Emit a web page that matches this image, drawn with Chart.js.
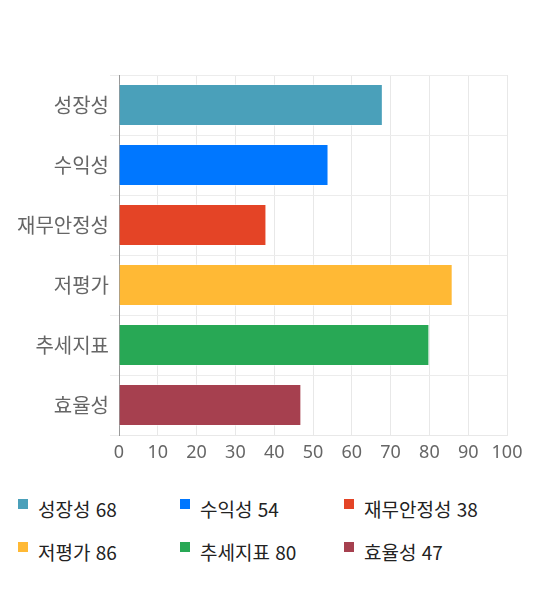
<!DOCTYPE html>
<html lang="ko">
<head>
  <meta charset="UTF-8">
  <title>항목별 점수</title>
  <script src="https://cdn.jsdelivr.net/npm/chart.js"></script>
  <style>
    body {
      margin: 0;
      padding: 0;
      background: #fff;
      font-family: 'Noto Sans CJK KR', 'Noto Sans', sans-serif;
      overflow: hidden;
    }
    #wrap {
      position: relative;
      width: 540px;
      height: 590px;
    }
    #chartBox {
      position: absolute;
      left: 0;
      top: 0;
      width: 540px;
      height: 470px;
    }
    #legend {
      position: absolute;
      left: 18px;
      top: 495px;
      width: 520px;
      display: grid;
      grid-template-columns: 162px 164px 190px;
      row-gap: 15px;
    }
    .item {
      position: relative;
      padding-left: 20px;
      font-size: 19px;
      line-height: 28px;
      color: #222;
      white-space: nowrap;
    }
    .item span {
      position: absolute;
      left: 0;
      top: 4px;
      width: 10px;
      height: 10px;
    }
  </style>
</head>
<body>
  <div id="wrap">
    <div id="chartBox"><canvas id="chart"></canvas></div>
    <div id="legend"></div>
  </div>

  <script>
    const categories = ['성장성', '수익성', '재무안정성', '저평가', '추세지표', '효율성'];
    const scores = [68, 54, 38, 86, 80, 47];
    const barColors = ['#4aa0ba', '#0077ff', '#e44426', '#ffb935', '#28a855', '#a6404f'];
    const xTicks = [0, 10, 20, 30, 40, 50, 60, 70, 80, 90, 100];

    // 범례는 HTML로
    const legend = document.getElementById('legend');
    categories.forEach((name, i) => {
      const div = document.createElement('div');
      div.className = 'item';
      div.innerHTML = `<span style="background:${barColors[i]}"></span>${name} ${scores[i]}`;
      legend.appendChild(div);
    });

    const ctx = document.getElementById('chart').getContext('2d');
    new Chart(ctx, {
      type: 'bar',
      data: {
        labels: categories,
        datasets: [{
          data: scores,
          backgroundColor: barColors,
          borderColor: 'rgba(255,255,255,0.45)',
          borderWidth: 1,
          barPercentage: 0.7,
          categoryPercentage: 1.0
        }]
      },
      options: {
        indexAxis: 'y',
        responsive: true,
        maintainAspectRatio: false,
        animation: false,
        layout: {
          padding: { top: 75, left: 0, right: 33, bottom: 8 }
        },
        plugins: {
          legend: { display: false },
          tooltip: { enabled: false }
        },
        scales: {
          x: {
            min: xTicks[0],
            max: xTicks[xTicks.length - 1],
            afterBuildTicks: (scale) => {
              scale.ticks = xTicks.map(v => ({ value: v }));
            },
            afterFit: (scale) => { scale.height = 27; },
            grid: { color: '#e8e8e8', tickLength: 0 },
            border: { color: '#e8e8e8' },
            ticks: {
              color: '#666',
              padding: 7,
              maxRotation: 0,
              font: { family: "'Noto Sans', sans-serif", size: 18 }
            }
          },
          y: {
            afterFit: (scale) => { scale.width = 119; },
            grid: { color: '#ececec', tickLength: 9, offset: true },
            border: { color: '#999' },
            ticks: {
              color: '#666',
              padding: 1,
              font: { family: "'Noto Sans CJK KR', sans-serif", size: 20 }
            }
          }
        }
      }
    });
  </script>
</body>
</html>
